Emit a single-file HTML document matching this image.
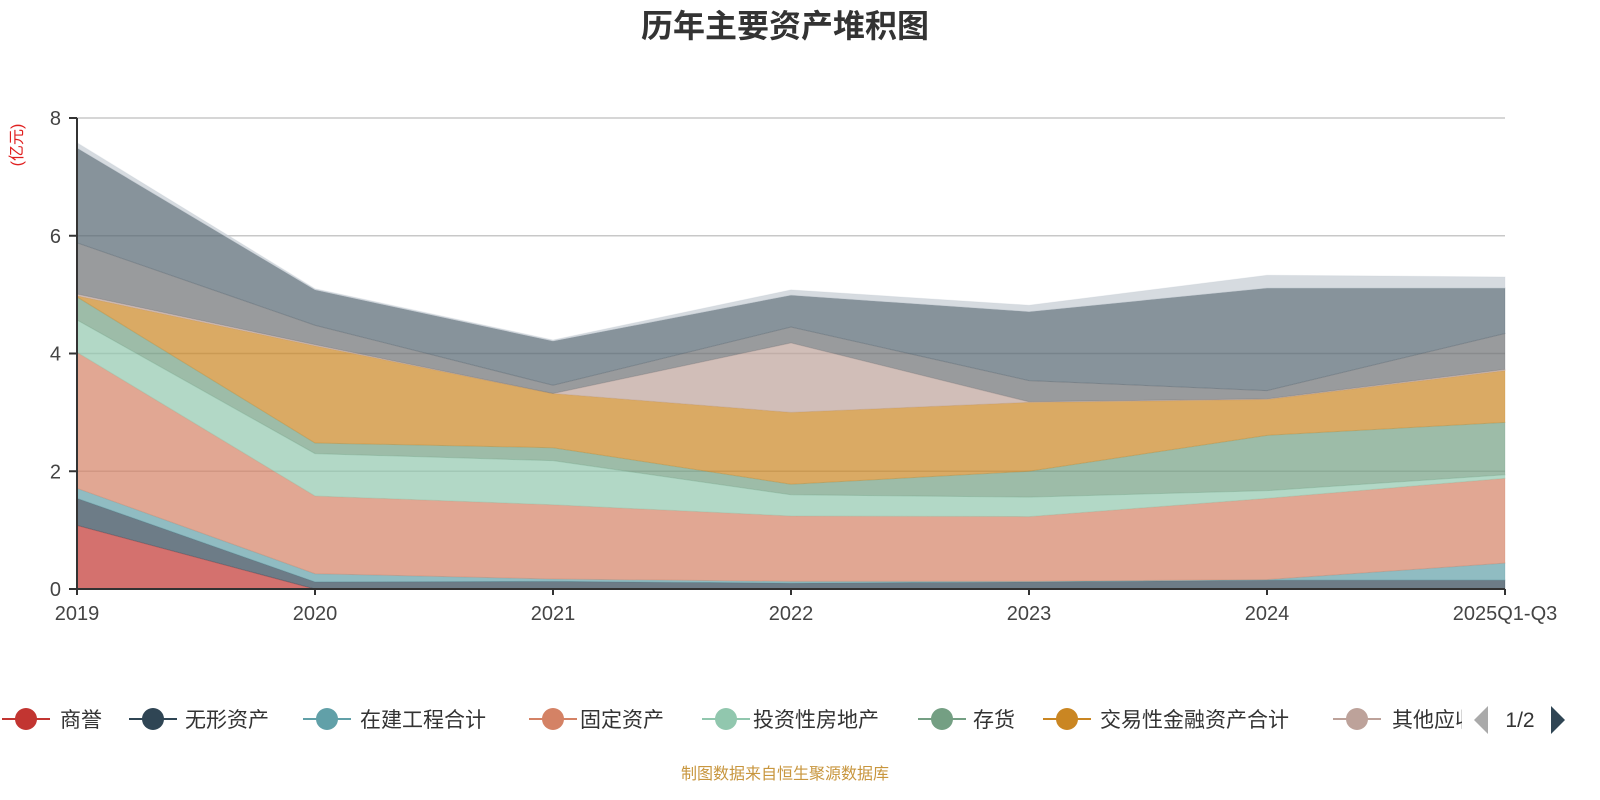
<!DOCTYPE html>
<html><head><meta charset="utf-8">
<style>
body{margin:0;background:#fff;width:1600px;height:800px;overflow:hidden;font-family:"Liberation Sans","Noto Sans CJK SC",sans-serif;}
svg{position:absolute;left:0;top:0}
</style></head>
<body>
<svg id="chart" width="1600" height="800">
<text x="785" y="37" text-anchor="middle" font-size="32" font-weight="bold" fill="#333" font-family="Liberation Sans, Noto Sans CJK SC, sans-serif">历年主要资产堆积图</text>
<text transform="translate(22,145) rotate(-90)" text-anchor="middle" font-size="16" fill="#e02020" font-family="Liberation Sans, Noto Sans CJK SC, sans-serif">(亿元)</text>
<g id="grid"></g><g id="areas"></g><g id="axes"></g><g id="legend"></g>
<text x="785" y="779" text-anchor="middle" font-size="16" fill="#c8963e" font-family="Liberation Sans, Noto Sans CJK SC, sans-serif">制图数据来自恒生聚源数据库</text>
</svg>
<script>
const categories=["2019","2020","2021","2022","2023","2024","2025Q1-Q3"];
const seriesNames=["商誉","无形资产","在建工程合计","固定资产","投资性房地产","存货","交易性金融资产合计","其他应收款","长期股权投资","货币资金","应收账款"];
const sGoodwill=[1.08,0,0,0,0,0,0];
const sIntangible=[0.46,0.12,0.13,0.10,0.12,0.15,0.15];
const sConstruction=[0.17,0.14,0.04,0.03,0.01,0.01,0.29];
const sFixed=[2.31,1.32,1.26,1.11,1.10,1.38,1.44];
const sInvestProp=[0.55,0.72,0.75,0.36,0.33,0.13,0.06];
const sInventory=[0.39,0.18,0.22,0.18,0.44,0.94,0.89];
const sTrading=[0.02,1.65,0.92,1.22,1.17,0.61,0.88];
const sOtherRecv=[0.03,0.02,0,1.18,0.01,0.01,0.02];
const sLongEquity=[0.87,0.33,0.14,0.27,0.36,0.14,0.61];
const sCash=[1.61,0.60,0.75,0.54,1.17,1.74,0.77];
const sReceivable=[0.09,0.02,0.02,0.09,0.11,0.22,0.19];
const yTicks=[0,2,4,6,8];
const allSeries=[sGoodwill,sIntangible,sConstruction,sFixed,sInvestProp,sInventory,sTrading,sOtherRecv,sLongEquity,sCash,sReceivable];
const colors=["#c23531","#2f4554","#61a0a8","#d48265","#91c7ae","#749f83","#ca8622","#bda29a","#6e7074","#546570","#c4ccd3"];
const NS="http://www.w3.org/2000/svg";
const x0=77,x1=1505,y0=589,yTop=118,yMax=8;
const xs=i=>x0+(x1-x0)*i/(categories.length-1);
const ys=v=>y0-(y0-yTop)*v/yMax;
function mk(tag,attrs,parent){const e=document.createElementNS(NS,tag);for(const k in attrs)e.setAttribute(k,attrs[k]);parent.appendChild(e);return e;}
const grid=document.getElementById('grid'),areas=document.getElementById('areas'),axes=document.getElementById('axes'),legend=document.getElementById('legend');
yTicks.forEach(t=>{
 if(t>0){const l=mk('line',{x1:x0,x2:x1,y1:ys(t),y2:ys(t),stroke:'#c8c8c8','stroke-width':1.5},grid);
 
 }
 const tk=mk('line',{x1:x0-8,x2:x0,y1:ys(t),y2:ys(t),stroke:'#333','stroke-width':2},axes);
 
 
 const tx=mk('text',{x:x0-16,y:ys(t)+7,'text-anchor':'end','font-size':20,fill:'#444'},axes);tx.textContent=t;
 
 
});
let cum=categories.map(()=>0);
allSeries.forEach((s,si)=>{
 const lower=cum.slice();const upper=cum.map((c,i)=>c+s[i]);
 let d='M'+categories.map((_,i)=>xs(i)+','+ys(upper[i])).join('L');
 for(let i=categories.length-1;i>=0;i--)d+='L'+xs(i)+','+ys(lower[i]);
 d+='Z';
 const p=mk('path',{d:d,fill:colors[si],'fill-opacity':0.7,stroke:colors[si],'stroke-opacity':0.25,'stroke-width':1},areas);
 
 
 cum=upper;
});
const ax=mk('line',{x1:x0,x2:x1,y1:y0,y2:y0,stroke:'#333','stroke-width':2},axes);


const ay=mk('line',{x1:x0,x2:x0,y1:yTop,y2:y0,stroke:'#333','stroke-width':2},axes);


categories.forEach((c,i)=>{
 const t=mk('text',{x:xs(i),y:620,'text-anchor':'middle','font-size':20,fill:'#444'},axes);t.textContent=c;
 
 
 const tk=mk('line',{x1:xs(i),x2:xs(i),y1:y0,y2:y0+6,stroke:'#333','stroke-width':2},axes);
 
 
});
const legIcon=[26,153,327,553,726,942,1067,1357];
const legText=[60,185,360,580,753,973,1100,1392];
for(let i=0;i<8;i++){
 const g=mk('g',{},legend);
 
 
 mk('line',{x1:legIcon[i]-24,x2:legIcon[i]+24,y1:719,y2:719,stroke:colors[i],'stroke-width':2},g);
 mk('circle',{cx:legIcon[i],cy:719,r:11,fill:colors[i]},g);
 const t=mk('text',{x:legText[i],y:727,'font-size':21,fill:'#333'},g);t.textContent=seriesNames[i];
}
const cover=mk('rect',{x:1462,y:695,width:138,height:50,fill:'#fff'},legend);


const pl=mk('path',{d:'M1488,706 L1474,720 L1488,734 Z',fill:'#aaa'},legend);


const pt=mk('text',{x:1520,y:727,'text-anchor':'middle','font-size':21,fill:'#333'},legend);pt.textContent='1/2';


const pr=mk('path',{d:'M1551,706 L1565,720 L1551,734 Z',fill:'#2f4554'},legend);


</script>
</body></html>
